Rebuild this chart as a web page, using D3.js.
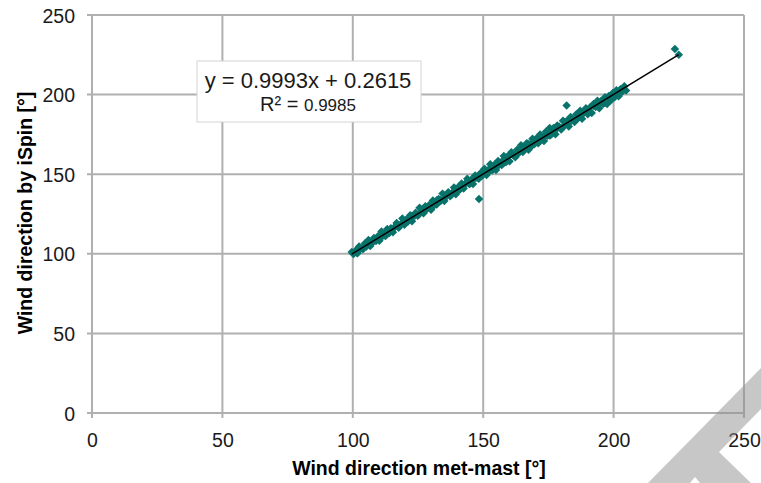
<!DOCTYPE html>
<html>
<head>
<meta charset="utf-8">
<script src="https://cdn.jsdelivr.net/npm/d3@7"></script>
<style>
  body { margin: 0; background: #fff; }
  svg { font-family: "Liberation Sans", Arial, sans-serif; }
  .axis .domain { display: none; }
  .axis text { font-size: 19.5px; fill: #1a1a1a; }
</style>
</head>
<body>
<svg width="761" height="483"></svg>
<script>
// wind direction from met-mast (x) vs. iSpin (y), degrees
var mastDir = [99.6, 100.3, 101.0, 101.8, 102.4, 103.1, 103.9, 104.6, 105.2, 106.0,
  106.7, 107.5, 108.1, 108.9, 109.6, 110.2, 111.0, 111.7, 112.5, 113.2,
  113.9, 114.6, 115.4, 116.1, 116.8, 117.6, 118.3, 119.0, 119.8, 120.5,
  121.2, 122.0, 122.7, 123.4, 124.1, 124.9, 125.6, 126.3, 127.1, 127.8,
  128.5, 129.3, 130.0, 130.7, 131.5, 132.2, 132.9, 133.7, 134.4, 135.1,
  135.9, 136.6, 137.3, 138.1, 138.8, 139.5, 140.3, 141.0, 141.7, 142.5,
  143.2, 143.9, 144.7, 145.4, 146.1, 146.9, 147.6, 148.3, 149.1, 149.8,
  150.5, 151.3, 152.0, 152.7, 153.5, 154.2, 154.9, 155.7, 156.4, 157.1,
  157.9, 158.6, 159.3, 160.1, 160.8, 161.5, 162.3, 163.0, 163.7, 164.5,
  165.2, 165.9, 166.7, 167.4, 168.1, 168.9, 169.6, 170.3, 171.1, 171.8,
  172.5, 173.3, 174.0, 174.7, 175.5, 176.2, 176.9, 177.7, 178.4, 179.1,
  179.9, 180.6, 181.3, 182.1, 182.8, 183.5, 184.3, 185.0, 185.7, 186.5,
  187.2, 187.9, 188.7, 189.4, 190.1, 190.9, 191.6, 192.3, 193.1, 193.8,
  194.5, 195.3, 196.0, 196.7, 197.5, 198.2, 198.9, 199.7, 200.4, 201.1,
  201.9, 202.6, 203.3, 204.1, 204.8,
  100.0, 101.4, 102.8, 104.2, 105.6, 107.0, 108.4, 109.8, 111.2, 112.6,
  114.0, 115.4, 116.8, 118.2, 119.6, 121.0, 122.4, 123.8, 125.2, 126.6,
  128.0, 129.4, 130.8, 132.2, 133.6, 135.0, 136.4, 137.8, 139.2, 140.6,
  142.0, 143.4, 144.8, 146.2, 147.6, 149.0, 150.4, 151.8, 153.2, 154.6,
  156.0, 157.4, 158.8, 160.2, 161.6, 163.0, 164.4, 165.8, 167.2, 168.6,
  170.0, 171.4, 172.8, 174.2, 175.6, 177.0, 178.4, 179.8, 181.2, 182.6,
  184.0, 185.4, 186.8, 188.2, 189.6, 191.0, 192.4, 193.8, 195.2, 196.6,
  198.0, 199.4, 200.8, 202.2, 203.6,
  148.4, 182.0, 223.5, 225.0];

var ispinDir = [101.2, 99.9, 101.9, 100.3, 104.6, 103.4, 102.8, 106.4, 104.6, 108.7,
  104.9, 108.0, 110.0, 108.0, 110.8, 108.2, 114.0, 111.9, 111.1, 115.6,
  113.6, 116.1, 113.5, 116.9, 119.4, 116.4, 118.4, 122.1, 118.2, 121.5,
  120.5, 124.2, 120.5, 124.0, 125.8, 123.9, 128.9, 126.7, 125.4, 129.8,
  128.3, 130.6, 127.6, 133.5, 132.2, 130.9, 134.5, 133.2, 137.8, 133.2,
  136.8, 138.7, 136.2, 138.4, 141.7, 137.4, 141.7, 140.2, 144.2, 141.0,
  143.8, 147.1, 143.8, 146.5, 143.8, 149.2, 147.8, 147.1, 150.9, 149.4,
  153.4, 149.5, 152.8, 156.2, 152.5, 155.7, 152.7, 158.3, 156.9, 155.7,
  161.5, 158.0, 161.2, 158.1, 163.8, 162.2, 160.7, 165.4, 163.4, 168.2,
  163.9, 167.1, 169.5, 165.3, 169.0, 172.3, 168.8, 172.3, 169.4, 174.9,
  172.9, 170.9, 176.7, 174.2, 179.0, 175.1, 178.5, 175.1, 180.6, 179.9,
  178.0, 183.6, 180.6, 183.5, 180.0, 186.0, 184.6, 182.8, 187.6, 185.3,
  189.8, 184.9, 189.3, 191.5, 187.6, 191.9, 188.4, 194.1, 192.2, 196.1,
  191.4, 195.8, 194.2, 198.4, 194.1, 199.1, 196.3, 201.0, 198.4, 202.7,
  199.0, 203.3, 201.8, 205.3, 202.5,
  100.4, 100.8, 103.7, 104.0, 106.7, 106.2, 108.7, 111.1, 110.7, 113.3,
  113.0, 115.6, 118.0, 117.8, 120.4, 120.1, 123.8, 123.9, 124.5, 127.6,
  127.7, 130.0, 129.7, 133.7, 133.8, 134.4, 137.3, 137.0, 140.8, 140.4,
  142.5, 144.6, 143.8, 146.5, 148.4, 148.5, 151.8, 150.9, 153.8, 156.3,
  155.6, 158.5, 157.6, 162.1, 161.9, 162.3, 165.9, 165.7, 169.2, 167.7,
  170.8, 173.2, 172.2, 175.4, 174.3, 179.1, 178.8, 179.0, 182.8, 181.5,
  184.9, 183.9, 188.1, 187.8, 190.6, 189.3, 193.0, 192.8, 196.0, 194.7,
  198.5, 198.2, 201.5, 201.4, 203.9,
  134.4, 193.1, 228.6, 225.0];

var slope = 0.9993, intercept = 0.2615, rSquared = 0.9985;
var axisTicks = [0, 50, 100, 150, 200, 250];

var svg = d3.select("svg"),
    margin = {top: 15, right: 17, bottom: 70, left: 92},
    width = +svg.attr("width") - margin.left - margin.right,
    height = +svg.attr("height") - margin.top - margin.bottom,
    g = svg.append("g").attr("transform", "translate(" + margin.left + "," + margin.top + ")");

var x = d3.scaleLinear().domain([0, 250]).range([0, width]);
var y = d3.scaleLinear().domain([0, 250]).range([height, 0]);

// grid lines (with small ticks poking out)
g.append("g").selectAll("line")
  .data(axisTicks).enter().append("line")
    .attr("x1", -5).attr("x2", width)
    .attr("y1", function(d) { return y(d); })
    .attr("y2", function(d) { return y(d); })
    .attr("stroke", "#b0b0b0").attr("stroke-width", 2);
g.append("g").selectAll("line")
  .data(axisTicks).enter().append("line")
    .attr("y1", 0).attr("y2", height + 5)
    .attr("x1", function(d) { return x(d); })
    .attr("x2", function(d) { return x(d); })
    .attr("stroke", "#b0b0b0").attr("stroke-width", 2);

g.append("g")
  .attr("class", "axis")
  .attr("transform", "translate(0," + height + ")")
  .call(d3.axisBottom(x).tickValues(axisTicks).tickSize(0).tickPadding(20));

g.append("g")
  .attr("class", "axis")
  .call(d3.axisLeft(y).tickValues(axisTicks).tickSize(0).tickPadding(17))
  .selectAll("text").attr("dy", "0.36em");

// points
var pts = mastDir.map(function(d, i) { return [d, ispinDir[i]]; });
g.append("g").selectAll("path")
  .data(pts).enter().append("path")
    .attr("d", d3.symbol().type(d3.symbolSquare).size(36))
    .attr("transform", function(d) { return "translate(" + x(d[0]) + "," + y(d[1]) + ") rotate(45)"; })
    .attr("fill", "#08736a");

// linear trendline
var xMin = d3.min(mastDir), xMax = d3.max(mastDir);
g.append("line")
  .attr("x1", x(xMin)).attr("y1", y(slope * xMin + intercept))
  .attr("x2", x(xMax)).attr("y2", y(slope * xMax + intercept))
  .attr("stroke", "#000").attr("stroke-width", 1.5);

// equation label
var lab = svg.append("g");
lab.append("rect")
  .attr("x", 197).attr("y", 61).attr("width", 224).attr("height", 61)
  .attr("fill", "#fff").attr("stroke", "#d4d4d4");
lab.append("text")
  .attr("x", 308).attr("y", 88).attr("text-anchor", "middle")
  .style("font-size", "22px").attr("fill", "#1a1a1a")
  .text("y = " + slope + "x + " + intercept);
var r2 = lab.append("text")
  .attr("x", 308).attr("y", 111).attr("text-anchor", "middle").attr("fill", "#1a1a1a");
r2.append("tspan").style("font-size", "20px").text("R² = ");
r2.append("tspan").style("font-size", "17px").text(rSquared);

// axis titles
svg.append("text")
  .attr("x", 419).attr("y", 475)
  .attr("text-anchor", "middle")
  .style("font-size", "19.5px").style("font-weight", "bold")
  .text("Wind direction met-mast [°]");
svg.append("text")
  .attr("transform", "translate(32," + 213 + ") rotate(-90)")
  .attr("text-anchor", "middle")
  .style("font-size", "19.5px").style("font-weight", "bold")
  .text("Wind direction by iSpin [°]");

// draft watermark corner
svg.append("polygon")
  .attr("points", "761,368 761,409 719,452 751,483 700,483 695,477 690,483 648,483")
  .attr("fill", "#8f8f8f").attr("opacity", 0.5);
</script>
</body>
</html>
